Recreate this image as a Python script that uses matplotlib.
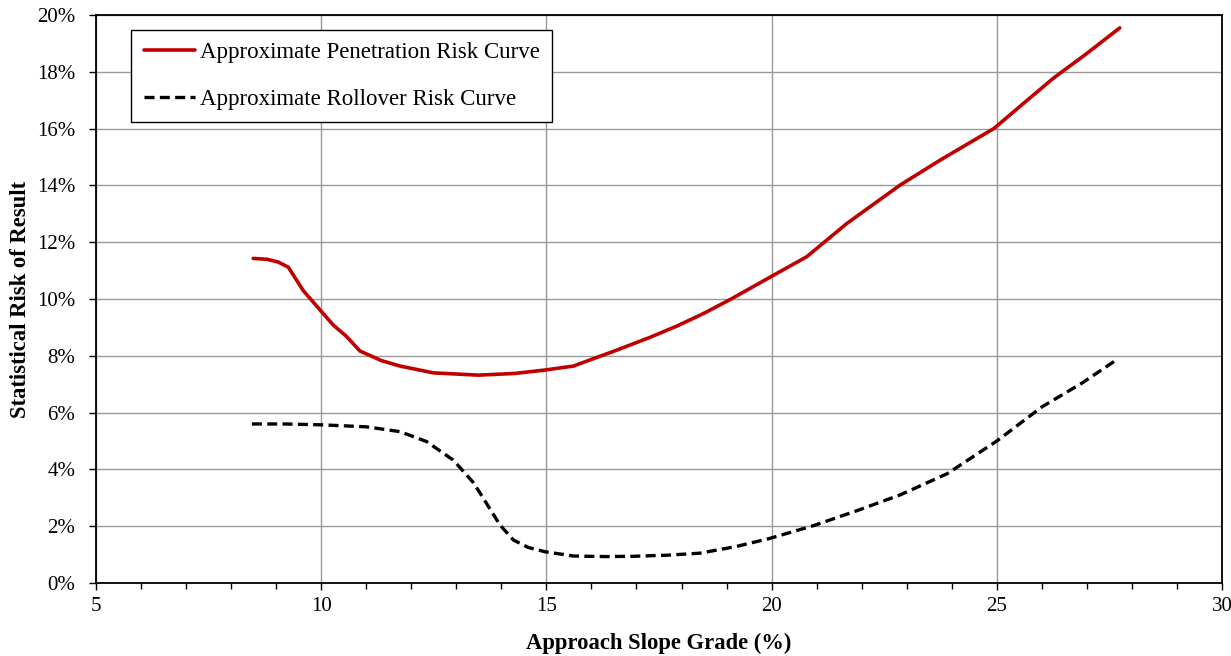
import matplotlib
matplotlib.use("Agg")
import matplotlib.pyplot as plt
from matplotlib.ticker import MultipleLocator, FuncFormatter

pen_x = [8.49, 8.8, 9.05, 9.27, 9.6, 10.01, 10.27, 10.55, 10.86, 11.34, 11.75, 12.49, 13.49,
         14.3, 14.97, 15.6, 16.56, 17.3, 17.9, 18.5, 19.1, 20.0, 20.78, 21.67, 22.85, 23.74,
         24.94, 25.6, 26.25, 27.0, 27.73]
pen_y = [11.43, 11.4, 11.3, 11.12, 10.3, 9.55, 9.08, 8.7, 8.17, 7.83, 7.64, 7.40, 7.32,
         7.38, 7.50, 7.64, 8.2, 8.65, 9.05, 9.5, 10.0, 10.8, 11.49, 12.66, 14.01, 14.89,
         16.01, 16.9, 17.77, 18.65, 19.55]

rol_x = [8.46, 9.2, 10.01, 11.0, 11.75, 12.34, 12.93, 13.37, 13.53, 13.97, 14.27, 14.6,
         14.97, 15.6, 16.3, 16.93, 17.7, 18.41, 19.2, 19.96, 20.93, 21.9, 22.85, 23.9,
         25.0, 26.0, 26.9, 27.65]
rol_y = [5.60, 5.60, 5.57, 5.50, 5.33, 4.98, 4.33, 3.55, 3.16, 2.04, 1.51, 1.25,
         1.10, 0.95, 0.93, 0.94, 0.98, 1.05, 1.28, 1.57, 2.02, 2.55, 3.10, 3.85,
         5.0, 6.2, 7.05, 7.85]

x_label = "Approach Slope Grade (%)"
y_label = "Statistical Risk of Result"
pen_label = "Approximate Penetration Risk Curve"
rol_label = "Approximate Rollover Risk Curve"

plt.rcParams['font.family'] = ['Liberation Serif', 'DejaVu Serif']

fig = plt.figure(figsize=(12.31, 6.56), dpi=100)
ax = fig.add_axes([0.078, 0.1113, 0.9147, 0.8657])

ax.plot(pen_x, pen_y, color='#C00000', lw=2.6, label=pen_label, solid_capstyle='round')
ax.plot(rol_x, rol_y, color='black', lw=2.4, ls=(0, (3, 1.6)), label=rol_label)

ax.set_xlim(5, 30)
ax.set_ylim(0, 20)
ax.xaxis.set_major_locator(MultipleLocator(5))
ax.xaxis.set_minor_locator(MultipleLocator(1))
ax.yaxis.set_major_locator(MultipleLocator(2))
ax.yaxis.set_major_formatter(FuncFormatter(lambda v, p: f"{v:.0f}%"))
ax.grid(True, which='major', color='#999999', lw=1.0)
ax.set_axisbelow(True)
for s in ax.spines.values():
    s.set_color('black')
    s.set_linewidth(1.3)
ax.tick_params(axis='both', which='major', direction='out', length=5, width=1, labelsize=15)
ax.tick_params(axis='x', which='major', pad=5)
ax.tick_params(axis='y', which='major', pad=10)
ax.tick_params(axis='x', which='minor', direction='out', length=4, width=1)

ax.set_xlabel(x_label, fontsize=16.3, fontweight='bold', labelpad=12)
ax.set_ylabel(y_label, fontsize=16.3, fontweight='bold', labelpad=4)

leg = ax.legend(loc='upper left', bbox_to_anchor=(0.031, 0.974), borderaxespad=0,
                fontsize=16.5, frameon=True, fancybox=False, framealpha=1,
                edgecolor='black', handlelength=2.25, handletextpad=0.2,
                labelspacing=1.1, borderpad=0.55)
leg.get_frame().set_linewidth(1.0)

fig.savefig("out.png", dpi=100)
